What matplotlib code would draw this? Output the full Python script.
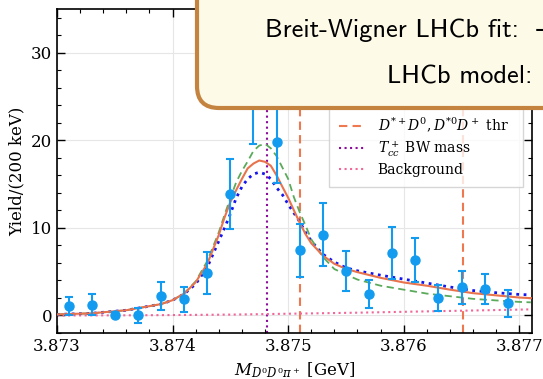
import matplotlib
matplotlib.use("Agg")
import matplotlib.pyplot as plt
from matplotlib.patches import FancyBboxPatch
from matplotlib.transforms import IdentityTransform
from matplotlib.ticker import MultipleLocator, FormatStrFormatter
import numpy as np

# ---- data points (bin centres in GeV) ----
bin_x = [3.8731, 3.8733, 3.8735, 3.8737, 3.8739, 3.8741, 3.8743, 3.8745, 3.8747, 3.8749,
         3.8751, 3.8753, 3.8755, 3.8757, 3.8759, 3.8761, 3.8763, 3.8765, 3.8767, 3.8769]
yield_y = [1.1, 1.2, 0.1, 0.0, 2.2, 1.85, 4.9, 13.9, 24.3, 19.8,
           7.45, 9.2, 5.1, 2.5, 7.1, 6.35, 2.0, 3.2, 3.05, 1.4]
yield_err = [1.0, 1.2, 0.3, 0.9, 1.6, 1.45, 2.4, 4.0, 4.7, 4.7,
             3.05, 3.6, 2.3, 1.6, 2.95, 2.55, 1.5, 1.85, 1.7, 1.55]

# ---- model curves ----
curve_x = [3.8730, 3.8733, 3.8736, 3.8739, 3.8740, 3.8741, 3.8742, 3.8743, 3.8744, 3.87445,
           3.8745, 3.87455, 3.8746, 3.87465, 3.8747, 3.87475, 3.8748, 3.87485, 3.8749, 3.87495,
           3.8750, 3.87505, 3.8751, 3.87515, 3.8752, 3.8753, 3.8754, 3.8755, 3.8756, 3.8758,
           3.8760, 3.8762, 3.8764, 3.8766, 3.8768, 3.8770, 3.8771]
bw_fit = [0.12, 0.25, 0.6, 1.3, 1.75, 2.5, 3.8, 5.9, 9.2, 11.2,
          12.95, 14.3, 15.6, 16.8, 17.35, 17.7, 17.55, 17.1, 16.0, 14.7,
          13.45, 12.0, 10.6, 9.3, 8.25, 6.85, 5.9, 5.33, 4.95, 4.3,
          3.77, 3.4, 2.95, 2.55, 2.3, 2.05, 1.98]
lhcb_model = [0.12, 0.25, 0.6, 1.3, 1.75, 2.5, 3.9, 6.2, 9.5, 11.5,
              13.4, 15.2, 16.5, 17.6, 18.8, 19.4, 19.6, 19.1, 18.2, 16.9,
              15.6, 13.5, 11.8, 10.3, 8.7, 6.7, 5.3, 4.68, 4.1, 3.4,
              2.95, 2.5, 2.2, 1.9, 1.72, 1.55, 1.5]
bw_alt = [0.12, 0.25, 0.6, 1.3, 1.75, 2.45, 3.6, 5.5, 8.5, 10.0,
          11.6, 13.4, 14.7, 15.6, 16.15, 16.36, 16.15, 15.6, 14.6, 13.8,
          12.7, 11.7, 10.7, 9.5, 8.5, 7.0, 6.1, 5.45, 5.1, 4.6,
          4.15, 3.7, 3.25, 2.85, 2.6, 2.4, 2.35]
background = [0.0, 0.01, 0.02, 0.04, 0.05, 0.06, 0.07, 0.08, 0.09, 0.1,
              0.1, 0.11, 0.12, 0.13, 0.14, 0.15, 0.16, 0.17, 0.18, 0.19,
              0.2, 0.21, 0.22, 0.23, 0.24, 0.26, 0.28, 0.3, 0.32, 0.37,
              0.42, 0.47, 0.52, 0.57, 0.62, 0.67, 0.7]

thresholds = [3.87510, 3.87651]
tcc_mass = 3.87482

plt.rcParams['font.family'] = ['DejaVu Serif']
plt.rcParams['mathtext.fontset'] = 'dejavuserif'

fig = plt.figure(figsize=(5.43, 3.79), dpi=100)
ax = fig.add_axes([57/543, 46/379, 475/543, 324/379])

ax.grid(True, which='major', color='#e6e6e6', lw=0.8)
ax.set_axisbelow(True)

eb = ax.errorbar(bin_x, yield_y, yerr=yield_err, fmt='o', color='#139BEF', ms=6.5,
                 capsize=3, elinewidth=1.5, capthick=1.5, zorder=5, label='Data')
l1, = ax.plot(curve_x, bw_fit, '-', color='#E8734D', lw=1.5, zorder=4,
              label='Breit-Wigner LHCb')
l3, = ax.plot(curve_x, bw_alt, ':', color='#1515EE', lw=2.0, zorder=3, label='Breit-Wigner fit')
l2, = ax.plot(curve_x, lhcb_model, '--', color='#5BAA5B', lw=1.3, dashes=(4, 2.5), zorder=3,
              label='LHCb model')
for i, t in enumerate(thresholds):
    ax.axvline(t, color='#EE7850', ls='--', lw=1.5, dashes=(4, 2.5), zorder=2,
               label=r'$D^{*+}D^0, D^{*0}D^+$ thr' if i == 0 else None)
ax.axvline(tcc_mass, color='#8B0C9B', ls=':', lw=1.5, zorder=2, label=r'$T_{cc}^+$ BW mass')
ax.plot(curve_x, background, ':', color='#F2669A', lw=1.5, zorder=2, label='Background')

ax.set_xlim(3.873, 3.87711)
ax.set_ylim(-2, 35)
ax.xaxis.set_major_locator(MultipleLocator(0.001))
ax.xaxis.set_minor_locator(MultipleLocator(0.0002))
ax.xaxis.set_major_formatter(FormatStrFormatter('%.3f'))
ax.yaxis.set_major_locator(MultipleLocator(10))
ax.yaxis.set_minor_locator(MultipleLocator(2))
ax.tick_params(which='both', direction='in', top=True, right=True, labelsize=12)
ax.tick_params(which='major', length=6, width=1)
ax.tick_params(which='minor', length=3, width=0.8)
for s in ax.spines.values():
    s.set_linewidth(1.2)

ax.set_xlabel(r'$M_{D^0D^0\pi^+}$ [GeV]', fontsize=12, labelpad=4)
ax.set_ylabel('Yield/(200 keV)', fontsize=12, labelpad=4)

handles, labels = ax.get_legend_handles_labels()
order = [labels.index('Data')] + [i for i in range(len(labels)) if labels[i] != 'Data']
leg = ax.legend([handles[i] for i in order], [labels[i] for i in order],
                loc='lower right', bbox_to_anchor=(0.981, 0.4506), borderaxespad=0,
                fontsize=10, frameon=True, fancybox=False, edgecolor='#cccccc',
                framealpha=0.8, handlelength=2.0, borderpad=0.7, labelspacing=0.3)

# overlapping text box (extends past the figure edge)
box = FancyBboxPatch((197, 271), 600, 150, boxstyle='round,pad=0,rounding_size=22',
                     transform=IdentityTransform(), facecolor='#FEFAE8', edgecolor='#C4843F',
                     lw=3, zorder=10)
fig.add_artist(box)
fig.text(265/543, (379-37)/379, 'Breit-Wigner LHCb fit:', family='cmss10', fontsize=19,
         va='baseline', ha='left', zorder=11)
fig.text(535/543, (379-37)/379, '\u2013', family='DejaVu Sans', fontsize=19,
         va='baseline', ha='left', zorder=11)
fig.text(387/543, (379-83)/379, 'LHCb model:', family='cmss10', fontsize=19,
         va='baseline', ha='left', zorder=11)

fig.savefig('out.png', dpi=100)
